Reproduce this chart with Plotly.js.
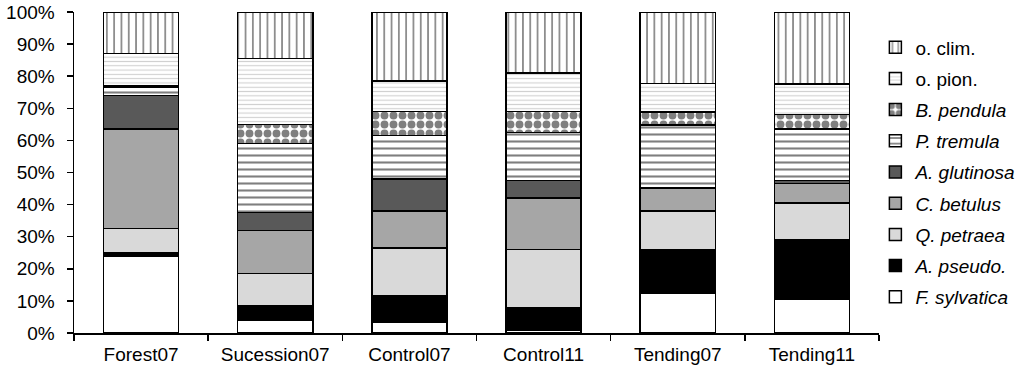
<!DOCTYPE html>
<html>
<head>
<meta charset="utf-8">
<script src="https://cdn.plot.ly/plotly-3.0.1.min.js"></script>
<style>html,body{margin:0;padding:0;background:#fff;}#chart{width:1024px;height:373px;}</style>
</head>
<body>
<div id="chart"></div>
<script>
const categories = ["Forest07", "Sucession07", "Control07", "Control11", "Tending07", "Tending11"];
const seriesNames = ["<i>F. sylvatica</i>", "<i>A. pseudo.</i>", "<i>Q. petraea</i>", "<i>C. betulus</i>", "<i>A. glutinosa</i>", "<i>P. tremula</i>", "<i>B. pendula</i>", "o. pion.", "o. clim."];
const fSylvatica = [24, 4, 3.5, 1, 12.5, 10.5];
const aPseudo    = [1, 4.5, 8, 7, 13.5, 18.5];
const qPetraea   = [7.5, 10, 15, 18, 12, 11.5];
const cBetulus   = [31, 13.5, 11.5, 16, 7, 6];
const aGlutinosa = [10.5, 5.5, 10, 5.5, 0.3, 1];
const pTremula   = [2.5, 21.5, 13.5, 15, 19.5, 16];
const bPendula   = [0.5, 6, 7.5, 6.5, 4, 4.5];
const oPion      = [10, 20.5, 9.5, 12, 9, 9.5];
const oClim      = [13, 14.5, 21.5, 19, 22.2, 22.5];

const seriesValues = [fSylvatica, aPseudo, qPetraea, cBetulus, aGlutinosa, pTremula, bPendula, oPion, oClim];

const styles = [
  {color: "#ffffff"},
  {color: "#000000"},
  {color: "#d9d9d9"},
  {color: "#a6a6a6"},
  {color: "#595959"},
  {color: "#ffffff", pattern: {shape: "-", fgcolor: "#000000", bgcolor: "#ffffff", size: 7, solidity: 0.3, fillmode: "overlay"}},
  {color: "#ffffff", pattern: {shape: ".", fgcolor: "#000000", bgcolor: "#ffffff", size: 9, solidity: 0.6, fillmode: "overlay"}},
  {color: "#ffffff", pattern: {shape: "-", fgcolor: "#a0a0a0", bgcolor: "#ffffff", size: 4.3, solidity: 0.25, fillmode: "overlay"}},
  {color: "#ffffff", pattern: {shape: "|", fgcolor: "#000000", bgcolor: "#ffffff", size: 7.3, solidity: 0.22, fillmode: "overlay"}}
];

const traces = seriesValues.map((vals, i) => {
  const m = {color: styles[i].color, line: {color: "#000000", width: 1.5}};
  if (styles[i].pattern) m.pattern = styles[i].pattern;
  return {
    type: "bar",
    x: categories,
    y: vals,
    name: seriesNames[i],
    legendgroup: "g" + i,
    legendrank: 1000 - i * 10,
    marker: m,
    hoverinfo: "none"
  };
});

const font = {family: "Liberation Sans, Arial, sans-serif", size: 19, color: "#000000"};

const layout = {
  width: 1024,
  height: 373,
  margin: {l: 74, r: 145, t: 12, b: 40, autoexpand: false},
  barmode: "stack",
  bargap: 0.44,
  paper_bgcolor: "#ffffff",
  plot_bgcolor: "#ffffff",
  font: font,
  showlegend: true,
  legend: {
    x: 0.9955, xanchor: "left",
    y: 0.949, yanchor: "top",
    traceorder: "grouped",
    tracegroupgap: 3.5,
    font: font,
    bgcolor: "rgba(0,0,0,0)"
  },
  xaxis: {
    type: "category",
    showline: true,
    linecolor: "#000000",
    linewidth: 1.5,
    ticks: "outside",
    tickson: "boundaries",
    ticklen: 6,
    tickcolor: "#000000",
    tickwidth: 1.5,
    ticklabelstandoff: 4,
    showgrid: false,
    zeroline: false,
    tickfont: font
  },
  yaxis: {
    range: [0, 100],
    tickvals: [0, 10, 20, 30, 40, 50, 60, 70, 80, 90, 100],
    ticktext: ["0%", "10%", "20%", "30%", "40%", "50%", "60%", "70%", "80%", "90%", "100%"],
    showline: true,
    linecolor: "#000000",
    linewidth: 1.5,
    ticks: "outside",
    ticklen: 6,
    tickcolor: "#000000",
    tickwidth: 1.5,
    ticklabelstandoff: 8,
    showgrid: false,
    zeroline: false,
    tickfont: font
  }
};

Plotly.newPlot("chart", traces, layout, {staticPlot: true});
</script>
</body>
</html>
